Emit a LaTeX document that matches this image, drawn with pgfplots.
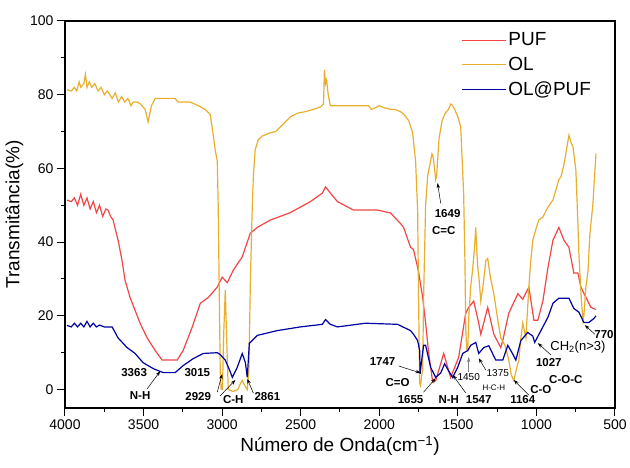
\documentclass[border=0pt]{standalone}
\usepackage{fontspec}
\setmainfont{Liberation Sans}
\usepackage{pgfplots}
\pgfplotsset{compat=1.18}
\usetikzlibrary{arrows.meta}
\definecolor{pufred}{RGB}{240,70,70}
\definecolor{olgold}{RGB}{232,174,46}
\definecolor{olpuf}{RGB}{0,0,160}

\begin{document}
\begin{tikzpicture}[x=1pt,y=1pt]
\useasboundingbox (-65,-60) rectangle (565,408);
\begin{axis}[
  at={(0,0)}, anchor=south west,
  width=550pt, height=387pt, scale only axis,
  x dir=reverse,
  xmin=500, xmax=4000, ymin=-5, ymax=100,
  xtick={500,1000,...,4000}, minor x tick num=1,
  ytick={0,20,...,100}, minor y tick num=1,
  xtick pos=bottom, ytick pos=left,
  tick align=outside,
  major tick length=8pt, minor tick length=4pt,
  axis line style={line width=1.3pt},
  every tick/.style={black, line width=1pt},
  /pgf/number format/assume math mode=true,
  /pgf/number format/1000 sep={},
  ticklabel style={font=\fontsize{14}{16}\selectfont},
  xlabel={Número de Onda(cm\textsuperscript{−1})},
  ylabel={Transmitância(\%)},
  label style={font=\fontsize{19}{22}\selectfont},
  legend style={at={(rel axis cs:0.72,0.975)}, anchor=north west,
    draw=none, fill=none, font=\fontsize{19}{24}\selectfont,
    inner sep=0pt, row sep=6pt},
  legend cell align=left,
  legend image code/.code={\draw[#1] (0pt,0pt) -- (44pt,0pt);},
  clip mode=individual,
]
\addplot[pufred, line width=1.2pt] coordinates {
(3987,51.4)(3960,51)(3940,52)(3920,50)(3900,53)(3880,50)(3860,52)(3840,49)(3820,51)
(3800,48)(3780,50)(3760,47)(3740,49)(3726,48.7)(3710,47)(3694,46)(3662,40.5)(3637,35)
(3618,29.7)(3586,25)(3554,21.5)(3522,18)(3477,14)(3426,10.6)(3382,8)(3286,8)(3248,10.6)
(3190,17)(3139,23.4)(3088,25)(3031,27.8)(3000,30.5)(2967,29)(2929,32.4)(2872,36)
(2821,42.4)(2776,44)(2693,46)(2566,48)(2438,51)(2362,53.3)(2342,55)(2311,53.3)(2266,51)
(2164,48.7)(2011,48.7)(1928,47.9)(1864,45)(1845,44)(1801,38.6)(1782,38)(1750,32)
(1724,25)(1705,18)(1686,10)(1660,2)(1641,2.4)(1590,9.8)(1546,3.3)(1495,8.7)(1450,20.7)
(1431,22.3)(1399,24)(1367,18)(1354,15)(1310,22.3)(1271,15)(1227,11.4)(1214,13.3)
(1176,20.7)(1118,26)(1087,24.5)(1048,27.8)(1016,18.8)(991,18.8)(959,24)(927,33)
(895,40.5)(857,44)(825,40.5)(793,38.6)(762,31.6)(736,31.6)(717,27.8)(685,25)(653,22.3)
(621,21.7)};
\addlegendentry{PUF}
\addplot[olgold, line width=1.2pt] coordinates {
(3987,81.4)(3960,81)(3940,82)(3925,81)(3910,83.5)(3900,82)(3880,83)(3870,85.5)(3860,82)
(3845,83.5)(3830,82)(3810,83)(3790,81)(3770,82)(3750,80)(3730,81)(3700,79)(3680,80.5)
(3660,78)(3640,79.5)(3620,78)(3600,79)(3580,77)(3567,78)(3540,78)(3520,77.5)(3490,76)
(3471,72.6)(3450,77)(3426,79)(3400,79)(3300,79)(3280,78)(3203,78)(3150,77)(3107,76)
(3076,74.6)(3063,71)(3044,65)(3031,62)(3025,50)(3018,25)(3012,5)(3006,0)(2998,0)
(2990,15)(2980,27)(2972,15)(2961,0)(2930,-0.5)(2900,0)(2885,1.5)(2872,2.5)(2855,1)
(2840,0)(2830,5)(2820,30)(2808,50)(2801,58)(2790,65)(2770,67.8)(2744,68.8)(2720,69.2)
(2693,69.7)(2660,70)(2629,71.3)(2600,72.5)(2566,74)(2520,75)(2470,75.4)(2420,76)
(2374,76.7)(2355,77.5)(2349,86.8)(2342,83)(2335,84)(2325,80)(2311,77)(2292,77)
(2200,77)(2068,77)(2050,76)(2024,76.5)(2000,77)(1970,76.5)(1928,76)(1900,76)
(1864,75.4)(1840,74.5)(1813,73)(1788,69.7)(1769,62)(1756,48.7)(1750,25)(1743,1.6)
(1737,1)(1730,4)(1724,5)(1718,25)(1705,50)(1692,58)(1673,62)(1665,64)(1660,63.7)
(1654,62)(1641,57)(1635,58)(1620,68)(1600,73)(1580,75)(1560,76)(1545,77.5)(1533,77)
(1520,76)(1500,74)(1482,71.3)(1470,60)(1463,53)(1455,35)(1450,17)(1444,11)(1437,10.6)
(1430,20)(1418,28)(1405,33)(1395,38)(1386,44)(1380,38)(1373,33)(1365,30)(1354,24)
(1340,28)(1322,35)(1310,35.6)(1291,30)(1271,26)(1250,20)(1227,14)(1200,12)(1176,8)
(1160,4)(1144,2.4)(1125,6)(1112,8)(1099,14)(1087,18)(1067,14)(1048,28)(1036,35)
(1023,40.5)(1000,44)(985,46)(959,46.8)(927,49.5)(895,51.4)(870,55)(857,57)(844,57.7)
(825,61)(813,64)(793,69)(780,67)(768,66)(749,59.6)(736,45)(730,37)(715,25)(704,18.8)
(698,20)(685,28)(672,32)(660,42)(640,50.6)(630,58)(621,64)};
\addlegendentry{OL}
\addplot[olpuf, line width=1.2pt] coordinates {
(3987,17.4)(3960,17)(3940,18)(3920,17)(3900,18)(3880,17)(3860,18.5)(3840,17)(3820,18)
(3800,17)(3780,17.5)(3750,17)(3700,17)(3662,14)(3605,11.4)(3554,9.8)(3503,7.3)
(3439,5.7)(3375,4.6)(3299,4.6)(3248,6.5)(3184,8.4)(3120,9.8)(3031,10)(3012,9.5)
(2980,8)(2950,5)(2935,3.3)(2904,6)(2872,9.8)(2852,7.3)(2840,3.3)(2827,12.5)(2776,14.7)
(2649,16)(2502,17)(2362,17.7)(2342,19)(2311,17.7)(2266,17)(2088,18)(1884,17.7)
(1801,16)(1782,15)(1756,13.3)(1743,10.6)(1740,4.3)(1730,8)(1718,12)(1705,12)(1673,6)
(1641,3.3)(1609,4.5)(1584,7)(1558,5)(1533,3.3)(1501,6)(1469,9.8)(1437,10.6)(1418,12)
(1386,12.8)(1367,9.8)(1335,11.4)(1303,11.9)(1259,8)(1214,8)(1182,12)(1150,9.6)
(1131,8)(1099,13.3)(1055,15.5)(1023,14.5)(1011,12.8)(959,17)(927,19.6)(895,23.4)
(857,24.8)(793,24.8)(762,22)(730,21)(698,18.2)(666,18.2)(634,19.3)(621,20)};
\addlegendentry{OL@PUF}

% annotations
\tikzset{lab/.style={font=\fontsize{11.5}{12}\selectfont\bfseries, inner sep=0pt},
         arr/.style={-{Stealth[length=5pt,width=3.5pt]}, line width=0.5pt, black}}
\node[lab] at (axis cs:3560,4.7) {3363};
\node[lab] at (axis cs:3522,-1.5) {N-H};
\draw[arr] (axis cs:3477,0.2) -- (axis cs:3394,5);
\node[lab] at (axis cs:3158,4.5) {3015};
\node[lab] at (axis cs:3152,-2) {2929};
\node[lab] at (axis cs:2929,-2.8) {C-H};
\draw[arr] (axis cs:3031,-0.7) -- (axis cs:3000,4.2);
\draw[arr] (axis cs:3012,-1.7) -- (axis cs:2916,2.6);
\node[lab] at (axis cs:2712,-2) {2861};
\draw[arr] (axis cs:2801,-1) -- (axis cs:2840,2.9);
\node[lab] at (axis cs:1979,7.5) {1747};
\draw[arr] (axis cs:1877,6.4) -- (axis cs:1737,4.5);
\node[lab] at (axis cs:1884,1.8) {C=O};
\node[lab] at (axis cs:1801,-2.8) {1655};
\draw[arr] (axis cs:1718,-0.7) -- (axis cs:1641,3.1);
\node[lab] at (axis cs:1558,-2.8) {N-H};
\node[lab] at (axis cs:1367,-2.8) {1547};
\draw[arr] (axis cs:1450,-0.9) -- (axis cs:1533,4);
\node[lab, font=\fontsize{10}{11}\selectfont] at (axis cs:1431,3.4) {1450};
\draw[arr, gray] (axis cs:1431,4.8) -- (axis cs:1431,8.8);
\node[lab, font=\fontsize{10}{11}\selectfont] at (axis cs:1246,4.5) {1375};
\draw[arr] (axis cs:1322,5.3) -- (axis cs:1367,8.5);
\node[lab, font=\fontsize{8}{9}\selectfont] at (axis cs:1271,0.4) {H-C-H};
\node[lab] at (axis cs:1087,-2.8) {1164};
\draw[arr] (axis cs:1048,-1.5) -- (axis cs:1144,2.6);
\node[lab] at (axis cs:972,0) {C-O};
\node[lab] at (axis cs:813,2.6) {C-O-C};
\node[lab] at (axis cs:921,7.2) {1027};
\draw[arr] (axis cs:908,9.4) -- (axis cs:991,12.6);
\node[lab, font=\fontsize{13}{14}\selectfont] at (axis cs:736,11.5) {CH\textsubscript{2}(n>3)};
\node[lab] at (axis cs:570,14.8) {770};
\draw[arr] (axis cs:628,15) -- (axis cs:692,17.5);
\node[lab] at (axis cs:1565,47.8) {1649};
\draw[arr] (axis cs:1609,50.5) -- (axis cs:1629,56);
\node[lab] at (axis cs:1590,43.2) {C=C};
\end{axis}
\end{tikzpicture}
\end{document}
